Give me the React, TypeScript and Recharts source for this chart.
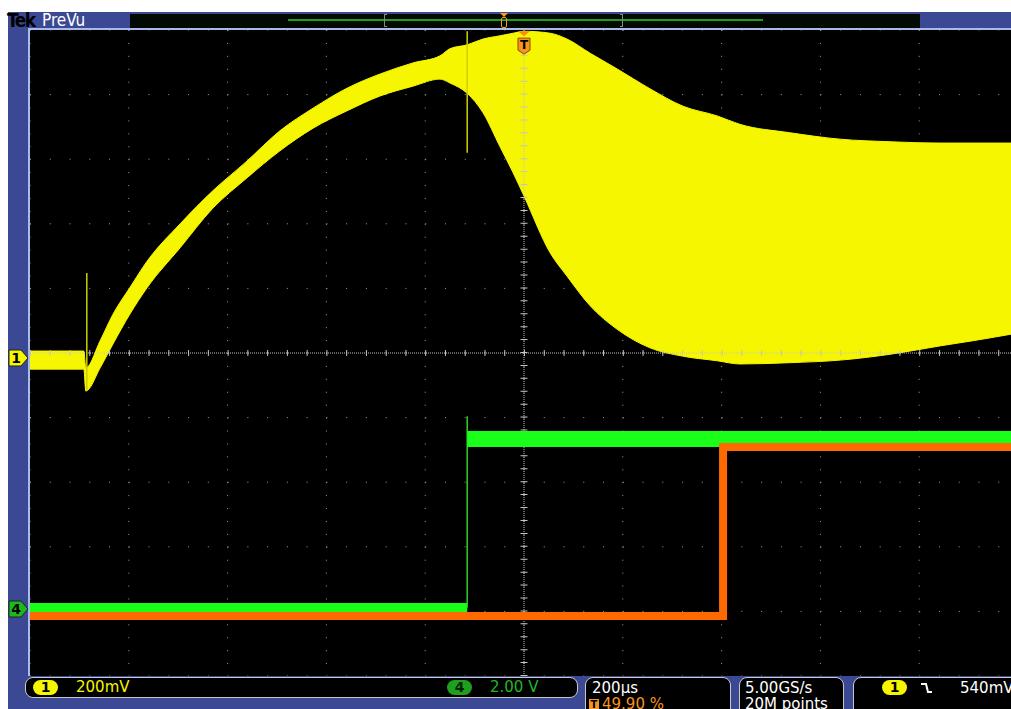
import React from "react";
import {
  ComposedChart,
  Area,
  Line,
  XAxis,
  YAxis,
  CartesianGrid,
  ReferenceLine,
  ReferenceDot,
} from "recharts";

// time in µs (200 µs/div, trigger at 0), levels in screen divisions (center = 0)
const ch1Time = [
  -1000, -891, -887, -858, -832, -798, -763, -696, -630, -561, -494, -427,
  -358, -291, -225, -170, -150, -115, -83, -49, -22, 0, 53, 87, 134, 188, 255,
  322, 391, 437, 538, 640, 741, 842, 909, 1000,
];
const ch1High = [
  0.03, 0.03, -0.23, 0.19, 0.6, 1.01, 1.42, 2.0, 2.51, 2.97, 3.44, 3.79, 4.1,
  4.32, 4.49, 4.6, 4.71, 4.77, 4.86, 4.91, 4.95, 4.98, 4.95, 4.86, 4.64, 4.4,
  4.09, 3.82, 3.67, 3.54, 3.41, 3.31, 3.27, 3.25, 3.25, 3.25,
];
const ch1Low = [
  -0.25, -0.25, -0.59, -0.23, 0.14, 0.6, 1.01, 1.63, 2.24, 2.71, 3.13, 3.48,
  3.75, 3.98, 4.13, 4.24, 4.18, 4.02, 3.72, 3.2, 2.79, 2.43, 1.55, 1.19, 0.73,
  0.37, 0.08, -0.05, -0.12, -0.17, -0.15, -0.11, -0.02, 0.11, 0.19, 0.31,
];
// single-sample glitches on ch1: [time, from, to]
const ch1Spikes = [
  [-885, 1.24, -0.59],
  [-115, 4.98, 3.1],
];

const ch4EdgeUs = -115;
const ch4LowDiv = -3.94;
const ch4HighDiv = -1.33;
const ch4GlitchTop = -0.98;

const refEdgeUs = 403;
const refLowDiv = -4.07;
const refHighDiv = -1.455;

const majorX = [-1000, -800, -600, -400, -200, 0, 200, 400, 600, 800, 1000];
const majorY = [-5, -4, -3, -2, -1, 0, 1, 2, 3, 4, 5];
const minorX = Array.from({ length: 51 }, (_, i) => -1000 + i * 40);
const minorY = Array.from({ length: 51 }, (_, i) => +(-5 + i * 0.2).toFixed(1));

const BLUE = "#3b4994";
const EDGE = "#a9bbea";
const YELLOW = "#f6f600";
const GREEN = "#1aff1a";
const ORANGE = "#ff6a00";
const FONT = "'DejaVu Sans', sans-serif";
const CONDENSED = "'DejaVu Sans Condensed', 'DejaVu Sans', sans-serif";

const ch1Data = ch1Time.map((t, i) => ({ t, band: [ch1Low[i], ch1High[i]] }));
const ch4LowData = [
  { t: -1000, v: ch4LowDiv },
  { t: ch4EdgeUs, v: ch4LowDiv },
];
const ch4EdgeData = [
  { t: ch4EdgeUs, v: ch4LowDiv },
  { t: ch4EdgeUs, v: ch4GlitchTop },
];
const ch4HighData = [
  { t: ch4EdgeUs, v: ch4HighDiv },
  { t: 1000, v: ch4HighDiv },
];
const refData = [
  { t: -1000, v: refLowDiv },
  { t: refEdgeUs, v: refLowDiv },
  { t: refEdgeUs, v: refHighDiv },
  { t: 1000, v: refHighDiv },
];

function TriggerMark(props: any) {
  const { cx, cy } = props;
  return (
    <g>
      <path
        d={`M${cx - 6},${cy - 15} L${cx + 6},${cy - 15} L${cx},${cy - 10} Z`}
        fill="#ff8c00"
      />
      <path
        d={`M${cx - 6},${cy - 8} L${cx + 6},${cy - 8} L${cx + 6},${cy + 4} L${cx},${cy + 8} L${cx - 6},${cy + 4} Z`}
        fill="#f7941d"
        stroke="#8a4a00"
        strokeWidth={1}
      />
      <text
        x={cx}
        y={cy + 3}
        textAnchor="middle"
        fontSize={12}
        fontWeight="bold"
        fontFamily={FONT}
        fill="#000"
      >
        T
      </text>
    </g>
  );
}

function ChannelTag({ top, fill, label }: { top: number; fill: string; label: string }) {
  return (
    <svg style={{ position: "absolute", left: 8, top }} width={22} height={18}>
      <path d="M1,1 L13,1 L20,9 L13,17 L1,17 Z" fill={fill} stroke="#222" strokeWidth={1} />
      <text x={8} y={14} textAnchor="middle" fontSize={14} fontWeight="bold" fontFamily={FONT} fill="#000">
        {label}
      </text>
    </svg>
  );
}

function Pill({ left, fill, label, color = "#000" }: { left: number; fill: string; label: string; color?: string }) {
  return (
    <div
      style={{
        position: "absolute",
        left,
        top: 2,
        width: 25,
        height: 15,
        borderRadius: 8,
        background: fill,
        color,
        fontSize: 14,
        lineHeight: "15px",
        textAlign: "center",
        fontWeight: "bold",
      }}
    >
      {label}
    </div>
  );
}

const box: React.CSSProperties = {
  position: "absolute",
  top: 677,
  background: "#000",
  border: "1.5px solid #c8c8c8",
  borderRadius: 8,
  boxSizing: "border-box",
  fontFamily: FONT,
  fontSize: 15,
  color: "#fff",
};

export default function App() {
  return (
    <div
      style={{
        position: "fixed",
        left: 0,
        top: 0,
        width: 1011,
        height: 709,
        background: "#fff",
        overflow: "hidden",
        fontFamily: FONT,
      }}
    >
      <div style={{ position: "absolute", left: 8, top: 12, right: 0, bottom: 0, background: BLUE }} />

      {/* top bar */}
      <div
        style={{
          position: "absolute",
          left: 7,
          top: 9,
          fontFamily: CONDENSED,
          fontSize: 19,
          fontWeight: "bold",
          color: "#000",
          letterSpacing: -1.5,
        }}
      >
        Tek
      </div>
      <div
        style={{
          position: "absolute",
          left: 42,
          top: 10,
          fontFamily: CONDENSED,
          fontSize: 17,
          color: "#fff",
        }}
      >
        PreVu
      </div>
      <div style={{ position: "absolute", left: 130, top: 14, width: 790, height: 14, background: "#020a02" }} />
      <div style={{ position: "absolute", left: 288, top: 19, width: 475, height: 2, background: "#1f9f1f" }} />
      <div style={{ position: "absolute", left: 384, top: 14, width: 3, height: 13, borderLeft: "1px solid #888", borderTop: "1px solid #888", borderBottom: "1px solid #888", boxSizing: "border-box" }} />
      <div style={{ position: "absolute", left: 620, top: 14, width: 3, height: 13, borderRight: "1px solid #888", borderTop: "1px solid #888", borderBottom: "1px solid #888", boxSizing: "border-box" }} />
      <div style={{ position: "absolute", left: 501, top: 17, width: 6, height: 11, border: "1.5px solid #ff9a1a", borderRadius: 2, boxSizing: "border-box" }} />
      <div style={{ position: "absolute", left: 500, top: 13, width: 0, height: 0, borderLeft: "4px solid transparent", borderRight: "4px solid transparent", borderTop: "4px solid #ff9a1a" }} />

      {/* graticule frame */}
      <div style={{ position: "absolute", left: 28, top: 28, right: 0, height: 2, background: EDGE }} />
      <div style={{ position: "absolute", left: 28, top: 28, width: 2, height: 648, background: EDGE }} />

      <div style={{ position: "absolute", left: 30, top: 30, width: 988, height: 646, background: "#000" }}>
        <ComposedChart width={988} height={646} margin={{ top: 0, right: 0, bottom: 0, left: 0 }}>
          <XAxis dataKey="t" type="number" domain={[-1000, 1000]} ticks={majorX} hide allowDataOverflow />
          <YAxis type="number" domain={[-5, 5]} ticks={majorY} hide allowDataOverflow />
          <XAxis
            xAxisId="top"
            orientation="top"
            type="number"
            domain={[-1000, 1000]}
            ticks={minorX}
            mirror
            tick={false}
            tickSize={4}
            axisLine={false}
            tickLine={{ stroke: "#9a9a9a" }}
          />
          <XAxis
            xAxisId="bottom"
            orientation="bottom"
            type="number"
            domain={[-1000, 1000]}
            ticks={minorX}
            mirror
            tick={false}
            tickSize={4}
            axisLine={false}
            tickLine={{ stroke: "#9a9a9a" }}
          />
          <YAxis
            yAxisId="left"
            orientation="left"
            type="number"
            domain={[-5, 5]}
            ticks={minorY}
            mirror
            tick={false}
            tickSize={4}
            axisLine={false}
            tickLine={{ stroke: "#9a9a9a" }}
          />
          <CartesianGrid vertical={false} stroke="#a0a0a0" strokeDasharray="1 18.76" />
          <CartesianGrid horizontal={false} stroke="#a0a0a0" strokeDasharray="1 11.92" />
          <ReferenceLine y={0} stroke="#c4c4c4" strokeDasharray="1 1" />
          <ReferenceLine y={0} stroke="#c4c4c4" strokeWidth={6} strokeDasharray="1 18.76" />
          <ReferenceLine x={0} stroke="#c4c4c4" strokeDasharray="1 1" />
          <ReferenceLine x={0} stroke="#c4c4c4" strokeWidth={7} strokeDasharray="1 11.92" />

          <Area
            data={ch1Data}
            dataKey="band"
            type="monotoneX"
            fill={YELLOW}
            fillOpacity={1}
            stroke={YELLOW}
            strokeWidth={1}
            isAnimationActive={false}
          />
          {ch1Spikes.map(([t, a, b], i) => (
            <Line
              key={i}
              data={[
                { t, v: a },
                { t, v: b },
              ]}
              dataKey="v"
              type="linear"
              stroke="#cfcf00"
              strokeWidth={1.5}
              dot={false}
              isAnimationActive={false}
            />
          ))}
          <Line data={ch4LowData} dataKey="v" type="linear" stroke={GREEN} strokeWidth={9} dot={false} isAnimationActive={false} />
          <Line data={ch4EdgeData} dataKey="v" type="linear" stroke="#2ad42a" strokeWidth={1.5} dot={false} isAnimationActive={false} />
          <Line data={ch4HighData} dataKey="v" type="linear" stroke={GREEN} strokeWidth={16} dot={false} isAnimationActive={false} />
          <Line
            data={refData}
            dataKey="v"
            type="linear"
            stroke={ORANGE}
            strokeWidth={8}
            strokeLinejoin="miter"
            dot={false}
            isAnimationActive={false}
          />
          <ReferenceDot x={0} y={4.75} r={0} ifOverflow="visible" shape={(p: any) => <TriggerMark {...p} />} />
        </ComposedChart>
      </div>

      <ChannelTag top={349} fill={YELLOW} label="1" />
      <ChannelTag top={600} fill="#1db81d" label="4" />

      {/* readouts */}
      <div style={{ ...box, left: 25, width: 553, height: 21 }}>
        <Pill left={7} fill={YELLOW} label="1" />
        <span style={{ position: "absolute", left: 50, top: 0, color: YELLOW, lineHeight: "19px" }}>200mV</span>
        <Pill left={421} fill="#1ea01e" label="4" color="#062006" />
        <span style={{ position: "absolute", left: 464, top: 0, color: "#22b822", lineHeight: "19px" }}>2.00 V</span>
      </div>
      <div style={{ ...box, left: 585, width: 146, height: 45 }}>
        <span style={{ position: "absolute", left: 6, top: 1, lineHeight: "18px" }}>200µs</span>
        <span
          style={{
            position: "absolute",
            left: 3,
            top: 21,
            width: 10,
            height: 11,
            background: "#f7941d",
            color: "#000",
            fontSize: 10,
            lineHeight: "11px",
            textAlign: "center",
            fontWeight: "bold",
          }}
        >
          T
        </span>
        <span style={{ position: "absolute", left: 16, top: 17, color: "#f7941d", lineHeight: "18px" }}>49.90 %</span>
      </div>
      <div style={{ ...box, left: 739, width: 105, height: 45 }}>
        <span style={{ position: "absolute", left: 5, top: 1, lineHeight: "18px" }}>5.00GS/s</span>
        <span style={{ position: "absolute", left: 5, top: 17, lineHeight: "18px" }}>20M points</span>
      </div>
      <div style={{ ...box, left: 853, width: 180, height: 45 }}>
        <Pill left={28} fill={YELLOW} label="1" />
        <svg style={{ position: "absolute", left: 66, top: 4 }} width={14} height={12}>
          <path d="M1,2 H6 L8,10 H12" fill="none" stroke="#fff" strokeWidth={2} />
        </svg>
        <span style={{ position: "absolute", left: 106, top: 1, lineHeight: "18px" }}>540mV</span>
      </div>
    </div>
  );
}
